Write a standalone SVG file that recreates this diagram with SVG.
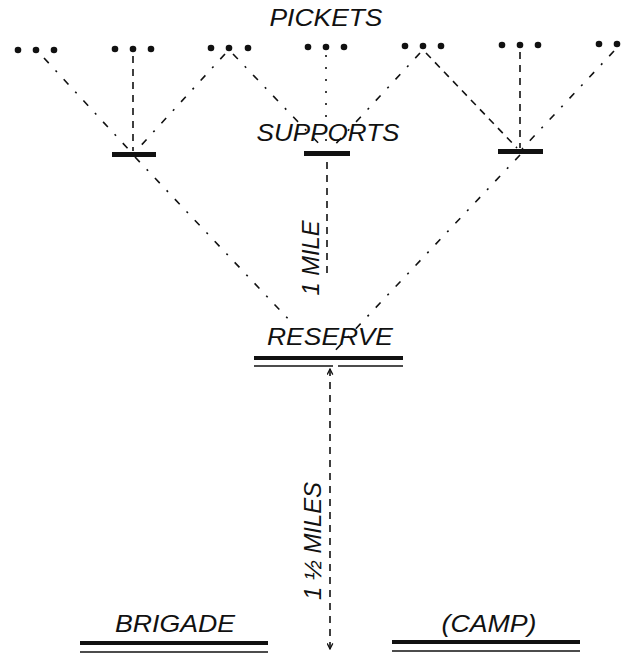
<svg xmlns="http://www.w3.org/2000/svg" width="629" height="653" viewBox="0 0 629 653">
<defs>
<style>
text{font-family:"Liberation Sans",Arial,sans-serif;font-style:italic;font-size:24px;fill:#111}
.dot{fill:#111}
.bar{fill:#111}
.ln{stroke:#111;stroke-width:1.6;fill:none}
.dash{stroke-dasharray:7 6}
.dd{stroke-dasharray:7 10 2 10}
.dt{stroke-dasharray:2 10}
.thin{stroke:#111;stroke-width:1.6}
</style>
<marker id="ah" viewBox="0 0 10 10" refX="9" refY="5" markerWidth="7" markerHeight="7" orient="auto-start-reverse" markerUnits="userSpaceOnUse">
<path d="M1,1 L9,5 L1,9" fill="none" stroke="#111" stroke-width="1.8"/>
</marker>
</defs>
<rect width="629" height="653" fill="#fff"/>

<g id="pickets">
<text x="326" y="26" text-anchor="middle" textLength="113" lengthAdjust="spacingAndGlyphs">PICKETS</text>
<g class="dot">
<circle cx="18" cy="50" r="3.3"/><circle cx="36" cy="50" r="3.3"/><circle cx="54" cy="50" r="3.3"/>
<circle cx="115" cy="49" r="3.3"/><circle cx="133" cy="49" r="3.3"/><circle cx="151" cy="49" r="3.3"/>
<circle cx="211" cy="48" r="3.3"/><circle cx="229" cy="48" r="3.3"/><circle cx="248" cy="48" r="3.3"/>
<circle cx="308" cy="47" r="3.3"/><circle cx="326" cy="47" r="3.3"/><circle cx="344" cy="47" r="3.3"/>
<circle cx="405" cy="46" r="3.3"/><circle cx="423" cy="46" r="3.3"/><circle cx="441" cy="46" r="3.3"/>
<circle cx="502" cy="45" r="3.3"/><circle cx="520" cy="45" r="3.3"/><circle cx="538" cy="45" r="3.3"/>
<circle cx="599" cy="44" r="3.3"/><circle cx="617" cy="44" r="3.3"/>
</g>
</g>

<g id="supports">
<text x="328" y="141" text-anchor="middle" textLength="143" lengthAdjust="spacingAndGlyphs">SUPPORTS</text>
<rect class="bar" x="112" y="152" width="44" height="5"/>
<rect class="bar" x="304" y="151" width="46" height="5"/>
<rect class="bar" x="498" y="149" width="45" height="5"/>
</g>

<g id="reserve">
<text x="330" y="345" text-anchor="middle" textLength="126" lengthAdjust="spacingAndGlyphs">RESERVE</text>
<rect class="bar" x="254" y="356" width="149" height="4"/>
<line class="thin" x1="254" y1="366" x2="333" y2="366"/>
<line class="thin" x1="338" y1="366" x2="403" y2="366"/>
</g>

<g id="brigade">
<text x="175" y="632" text-anchor="middle" textLength="120" lengthAdjust="spacingAndGlyphs">BRIGADE</text>
<rect class="bar" x="80" y="641" width="188" height="4"/>
<line class="thin" x1="80" y1="652" x2="268" y2="652"/>
</g>

<g id="camp">
<text x="489" y="632" text-anchor="middle" textLength="95" lengthAdjust="spacingAndGlyphs">(CAMP)</text>
<rect class="bar" x="392" y="640" width="188" height="4"/>
<line class="thin" x1="392" y1="651" x2="580" y2="651"/>
</g>

<g id="connectors">
<line class="ln dd" x1="44" y1="58" x2="131" y2="152"/>
<line class="ln dash" x1="133" y1="56" x2="133" y2="151"/>
<line class="ln dd" x1="225" y1="54" x2="135" y2="152"/>
<line class="ln dd" x1="233" y1="54" x2="325" y2="150"/>
<line class="ln dt" x1="326" y1="55" x2="326" y2="150"/>
<line class="ln dd" x1="420" y1="53" x2="330" y2="150"/>
<line class="ln dash" x1="426" y1="53" x2="517" y2="148"/>
<line class="ln dash" x1="520" y1="52" x2="520" y2="148"/>
<line class="ln dd" x1="614" y1="51" x2="522" y2="149"/>
<line class="ln dd" x1="135" y1="157" x2="293" y2="324"/>
<line class="ln dd" x1="520" y1="155" x2="330" y2="356"/>
<line class="ln dash" x1="327" y1="162" x2="327" y2="275"/>
<line class="ln dash" x1="330" y1="369" x2="330" y2="649" marker-start="url(#ah)" marker-end="url(#ah)"/>
</g>

<g id="labels">
<text x="0" y="0" font-size="22" text-anchor="middle" transform="translate(319,258) rotate(-90)" textLength="75" lengthAdjust="spacingAndGlyphs">1 MILE</text>
<text x="0" y="0" font-size="22" text-anchor="middle" transform="translate(321,541) rotate(-90)" textLength="118" lengthAdjust="spacingAndGlyphs">1 ½ MILES</text>
</g>
</svg>
